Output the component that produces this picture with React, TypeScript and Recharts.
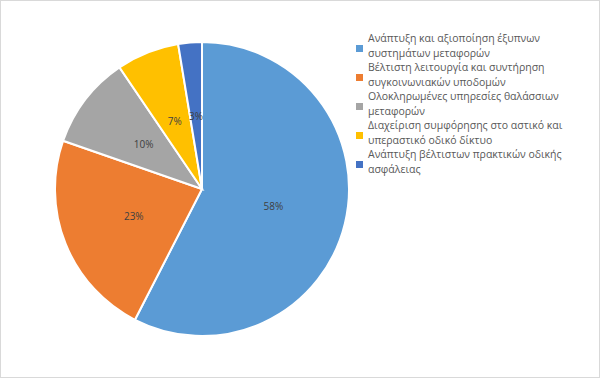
import React from 'react';
import { PieChart, Pie, Cell, Legend } from 'recharts';

const categories = [
  'Ανάπτυξη και αξιοποίηση έξυπνων συστημάτων μεταφορών',
  'Βέλτιστη λειτουργία και συντήρηση συγκοινωνιακών υποδομών',
  'Ολοκληρωμένες υπηρεσίες θαλάσσιων μεταφορών',
  'Διαχείριση συμφόρησης στο αστικό και υπεραστικό οδικό δίκτυο',
  'Ανάπτυξη βέλτιστων πρακτικών οδικής ασφάλειας',
];
const values = [57.6, 22.8, 10.2, 6.9, 2.6];
const colors = ['#5B9BD5', '#ED7D31', '#A5A5A5', '#FFC000', '#4472C4'];

const data = categories.map((name, i) => ({ name, value: values[i] }));

const FONT = '"Open Sans", "Liberation Sans", sans-serif';
const RADIAN = Math.PI / 180;

const renderLabel = (props: any) => {
  const { cx, cy, midAngle, outerRadius, percent } = props;
  const r = outerRadius * 0.5;
  const x = cx + r * Math.cos(-midAngle * RADIAN);
  const y = cy + r * Math.sin(-midAngle * RADIAN);
  return (
    <text x={x} y={y} fill="#404040" fontSize={10} fontFamily={FONT} textAnchor="middle" dominantBaseline="central">
      {Math.round(percent * 100) + '%'}
    </text>
  );
};

const renderLegend = () => (
  <div style={{ fontFamily: FONT, fontSize: 10.5, color: '#595959', width: 225 }}>
    {categories.map((c, i) => (
      <div key={i} style={{ display: 'flex', alignItems: 'center', lineHeight: '14.5px', marginBottom: 0 }}>
        <div style={{ width: 7, height: 7, background: colors[i], marginRight: 5, flexShrink: 0, marginTop: 6 }} />
        <div>{c}</div>
      </div>
    ))}
  </div>
);

export default function App() {
  return (
    <div style={{ position: 'absolute', left: 0, top: 0, width: 600, height: 378, boxSizing: 'border-box', border: '1px solid #d9d9d9', background: '#fff' }}>
      <PieChart width={598} height={376} margin={{ top: 0, right: 0, bottom: 0, left: 0 }}>
        <Pie
          data={data}
          dataKey="value"
          nameKey="name"
          cx={201}
          cy={188}
          outerRadius={147}
          startAngle={90}
          endAngle={-270}
          stroke="#ffffff"
          strokeWidth={2}
          label={renderLabel}
          labelLine={false}
          isAnimationActive={false}
        >
          {data.map((d, i) => (
            <Cell key={i} fill={colors[i]} />
          ))}
        </Pie>
        <Legend
          layout="vertical"
          align="right"
          verticalAlign="top"
          content={renderLegend}
          wrapperStyle={{ position: 'absolute', left: 355, top: 30, width: 230 }}
        />
      </PieChart>
    </div>
  );
}
